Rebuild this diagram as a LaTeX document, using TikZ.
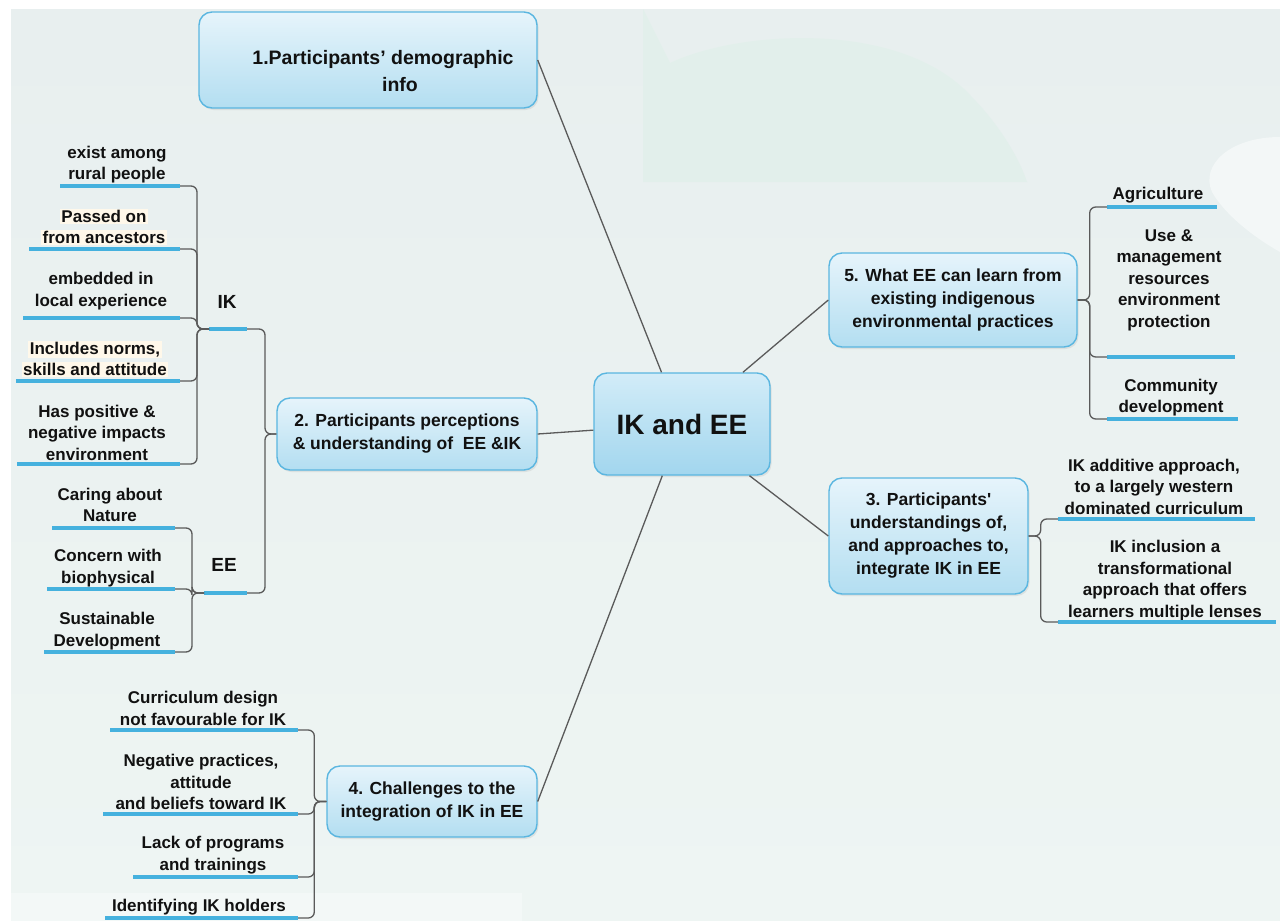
\documentclass[tikz,border=0pt]{standalone}
\usepackage{fontspec}
\setmainfont{Liberation Sans}
\usetikzlibrary{shadows}

\definecolor{ink}{HTML}{111111}
\definecolor{wiregray}{HTML}{5A5A5A}
\definecolor{ublue}{HTML}{45B1DE}
\definecolor{boxborder}{HTML}{5AB6E0}
\definecolor{boxtop}{HTML}{E6F4FB}
\definecolor{boxbot}{HTML}{B3DEF1}
\definecolor{hubtop}{HTML}{D2ECF8}
\definecolor{hubbot}{HTML}{A2D6EE}
\definecolor{bgtop}{HTML}{E8EFEF}
\definecolor{bgbot}{HTML}{EEF5F3}
\definecolor{arcshade}{HTML}{E2EFEB}
\definecolor{blobshade}{HTML}{F3F7F7}
\definecolor{paleband}{HTML}{F3F8F7}
\definecolor{cream}{HTML}{FFF8EA}

\newcommand\lblfont{\fontsize{17}{21.5}\selectfont\bfseries}
\newcommand\topicfont{\fontsize{17.5}{23}\selectfont\bfseries}
\newcommand\hilite[1]{{\setlength{\fboxsep}{1.5pt}\colorbox{cream}{#1}}}
\newcommand\straightquote{{\addfontfeatures{Ligatures=TeXOff}'}}

\tikzset{
  topic/.style={draw=boxborder, line width=1.4pt, rounded corners=13pt,
    top color=boxtop, bottom color=boxbot, align=center, font=\topicfont,
    text=ink, inner sep=0pt,
    drop shadow={shadow xshift=1.5pt, shadow yshift=-2pt, opacity=0.15}},
  hub/.style={topic, top color=hubtop, bottom color=hubbot,
    font=\fontsize{28}{32}\selectfont\bfseries},
  topictext/.style={align=center, font=\topicfont, text=ink, inner sep=0pt},
  lbl/.style={font=\lblfont, align=center, text=ink, inner sep=0pt},
  grouptag/.style={font=\fontsize{19}{22}\selectfont\bfseries, text=ink, inner sep=0pt},
  ubar/.style={draw=ublue, line width=4pt},
  wire/.style={draw=wiregray, line width=1.3pt},
  elbow/.style={wire, rounded corners=6pt},
}

\begin{document}
\begin{tikzpicture}[x=1pt,y=-1pt]
\useasboundingbox (0,0) rectangle (1280,921);

% backdrop
\begin{scope}
  \clip (0,0) rectangle (1280,921);
  \fill[white] (0,0) rectangle (1280,921);
  \shade[top color=bgtop, bottom color=bgbot] (11,9) rectangle (1280,921);
  \fill[arcshade] (643,9) -- (670,63) .. controls (740,30) and (900,20) .. (970,95)
     .. controls (1000,125) and (1020,160) .. (1027,182) -- (643,182) -- cycle;
  \fill[blobshade] (1280,137) .. controls (1230,137) and (1200,165) .. (1212,192)
     .. controls (1225,215) and (1255,238) .. (1280,252) -- cycle;
  \fill[paleband] (11,893) rectangle (522,921);
\end{scope}

% main topics
\node[hub, minimum width=176pt, minimum height=102pt] (hub) at (682,424) {IK and EE};
\node[topic, minimum width=338pt, minimum height=96pt] (demo) at (368,60) {};
\node[topictext, font=\fontsize{19.5}{27}\selectfont\bfseries] (demotext) at (383,71)
  {1.Participants' demographic\\\hspace*{34pt}info};
\node[topic, minimum width=260pt, minimum height=72pt] (persp) at (407,434)
  {2. Participants perceptions\\\& understanding of~ EE \&IK};
\node[topic, minimum width=248pt, minimum height=94pt] (learn) at (953,300)
  {5. What EE can learn from\\existing indigenous\\environmental practices};
\node[topic, minimum width=199pt, minimum height=116pt] (integ) at (928.5,536)
  {3. Participants\straightquote\\understandings of,\\and approaches to,\\integrate IK in EE};
\node[topic, minimum width=210pt, minimum height=71pt] (chall) at (432,801.5)
  {4. Challenges to the\\integration of IK in EE};

\draw[wire] (hub) -- (demo.east);
\draw[wire] (hub) -- (persp.east);
\draw[wire] (hub) -- (learn.west);
\draw[wire] (hub) -- (integ.west);
\draw[wire] (hub) -- (chall.east);

% --- topic 2: IK and EE groups
\node[grouptag] (ik) at (227,302) {IK};
\coordinate (ikL) at (209,329); \coordinate (ikR) at (247,329);
\draw[ubar] (ikL) -- (ikR);
\draw[elbow] (ikR) -- ++(18,0) |- (persp.west);

\node[grouptag] (ee) at (224,565) {EE};
\coordinate (eeL) at (204,593); \coordinate (eeR) at (247,593);
\draw[ubar] (eeL) -- (eeR);
\draw[elbow] (eeR) -- ++(18,0) |- (persp.west);

% IK items
\node[lbl] (k1) at (117,164.5) {exist among\\rural people};
\coordinate (k1a) at (60,186); \coordinate (k1b) at (180,186);
\node[lbl] (k2) at (104,227) {\hilite{Passed on}\\\hilite{from ancestors}};
\coordinate (k2a) at (29,249); \coordinate (k2b) at (180,249);
\node[lbl] (k3) at (101,291) {embedded in\\local experience};
\coordinate (k3a) at (23,318); \coordinate (k3b) at (180,318);
\node[lbl] (k4) at (95,359) {\hilite{Includes norms,}\\\hilite{skills and attitude}};
\coordinate (k4a) at (16,381); \coordinate (k4b) at (180,381);
\node[lbl] (k5) at (97,432.5) {Has positive \&\\negative impacts\\environment};
\coordinate (k5a) at (17,464); \coordinate (k5b) at (180,464);
\foreach \i in {1,...,5} {
  \draw[ubar] (k\i a) -- (k\i b);
  \draw[elbow] (ikL) -- ++(-12,0) |- (k\i b);
}

% EE items
\node[lbl] (e1) at (110,505) {Caring about\\Nature};
\coordinate (e1a) at (52,528); \coordinate (e1b) at (175,528);
\node[lbl] (e2) at (108,568) {Concern with\\biophysical};
\coordinate (e2a) at (47,589); \coordinate (e2b) at (175,589);
\node[lbl] (e3) at (107,631) {Sustainable\\Development};
\coordinate (e3a) at (44,652); \coordinate (e3b) at (175,652);
\foreach \i in {1,2,3} {
  \draw[ubar] (e\i a) -- (e\i b);
  \draw[elbow] (eeL) -- ++(-12,0) |- (e\i b);
}

% --- topic 4 items
\node[lbl] (d1) at (203,708.5) {Curriculum design\\not favourable for IK};
\coordinate (d1a) at (110,730); \coordinate (d1b) at (298,730);
\node[lbl] (d2) at (201,782) {Negative practices,\\attitude\\and beliefs toward IK};
\coordinate (d2a) at (103,814); \coordinate (d2b) at (298,814);
\node[lbl] (d3) at (213,855) {Lack of programs\\and trainings};
\coordinate (d3a) at (133,877); \coordinate (d3b) at (298,877);
\node[lbl] (d4) at (199,907) {Identifying IK holders};
\coordinate (d4a) at (105,918); \coordinate (d4b) at (298,918);
\foreach \i in {1,...,4} {
  \draw[ubar] (d\i a) -- (d\i b);
  \draw[elbow] (chall.west) -- ++(-12,0) |- (d\i b);
}

% --- topic 5 items
\node[lbl] (f1) at (1158,195) {Agriculture};
\coordinate (f1a) at (1107,207); \coordinate (f1b) at (1217,207);
\node[lbl] (f2) at (1169,280) {Use \&\\management\\resources\\environment\\protection};
\coordinate (f2a) at (1107,357); \coordinate (f2b) at (1235,357);
\node[lbl] (f3) at (1171,397.5) {Community\\development};
\coordinate (f3a) at (1107,419); \coordinate (f3b) at (1238,419);
\foreach \i in {1,2,3} {
  \draw[ubar] (f\i a) -- (f\i b);
  \draw[elbow] (learn.east) -- ++(12,0) |- (f\i a);
}

% --- topic 3 items
\node[lbl] (g1) at (1154,486.5) {IK additive approach,\\to a largely western\\dominated curriculum};
\coordinate (g1a) at (1058,519); \coordinate (g1b) at (1255,519);
\node[lbl] (g2) at (1165,580.5) {IK inclusion a\\transformational\\approach that offers\\learners multiple lenses};
\coordinate (g2a) at (1058,622); \coordinate (g2b) at (1276,622);
\foreach \i in {1,2} {
  \draw[ubar] (g\i a) -- (g\i b);
  \draw[elbow] (integ.east) -- ++(12,0) |- (g\i a);
}
\end{tikzpicture}
\end{document}
